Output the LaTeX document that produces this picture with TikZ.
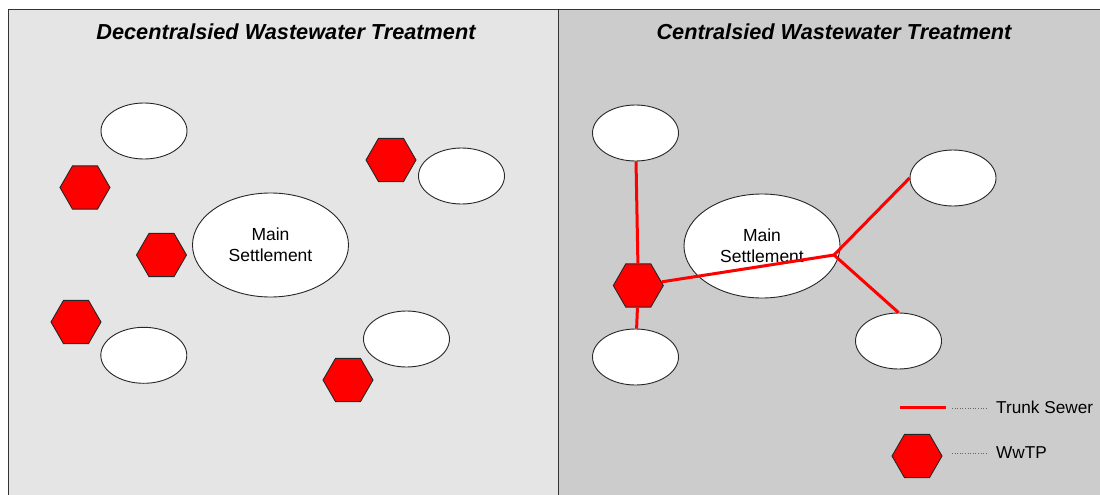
\documentclass[tikz,border=0pt]{standalone}
\usepackage{fontspec}
\setmainfont{Liberation Sans}
\usetikzlibrary{shapes.geometric}
\definecolor{panelL}{HTML}{E5E5E5}
\definecolor{panelR}{HTML}{CCCCCC}
\definecolor{sewer}{HTML}{FF0000}

\begin{document}
\begin{tikzpicture}[x=1pt,y=-1pt,
  settle/.style={ellipse,draw=black!85,line width=0.9pt,fill=white,
    minimum width=86pt,minimum height=56pt,inner sep=0pt},
  mainsettle/.style={settle,minimum width=156pt,minimum height=104pt,
    align=center,font=\fontsize{17.5}{21}\selectfont},
  plant/.style={regular polygon,regular polygon sides=6,minimum size=50pt,
    inner sep=0pt,draw=black!85,line width=0.9pt,fill=sewer},
  trunk/.style={draw=sewer,line width=3pt},
  leader/.style={draw=black!60,dotted,line width=0.6pt},
  paneltitle/.style={font=\fontsize{21.7}{24}\selectfont\bfseries\itshape},
  legendtext/.style={font=\fontsize{17.2}{20}\selectfont,anchor=base west,inner sep=0pt}]

\useasboundingbox (0,0) rectangle (1100,495);

% panels
\fill[white] (0,0) rectangle (1100,495);
\fill[panelL] (8,10) rectangle (558.5,500);
\fill[panelR] (558.5,10) rectangle (1110,500);
\draw[black!80,line width=1pt] (8,500) -- (8,10) -- (1110,10);
\draw[black!80,line width=1pt] (558.5,10) -- (558.5,500);

\node[paneltitle] (titleL) at (286,32) {Decentralsied Wastewater Treatment};
\node[paneltitle] (titleR) at (834,32) {Centralsied Wastewater Treatment};

% decentralised layout
\node[settle] (l1) at (144,131) {};
\node[settle] (l2) at (461.5,176) {};
\node[settle] (l3) at (143.8,355.3) {};
\node[settle] (l4) at (406.5,339) {};
\node[mainsettle] (lmain) at (270.5,245) {Main\\Settlement};

\node[plant] (lp1) at (85,187.5) {};
\node[plant] (lp2) at (161.5,255) {};
\node[plant] (lp3) at (391,160) {};
\node[plant] (lp4) at (76,322) {};
\node[plant] (lp5) at (348,380) {};

% centralised layout
\node[settle] (r1) at (635.5,133) {};
\node[settle] (r2) at (953,178) {};
\node[settle] (r3) at (898.5,341) {};
\node[settle] (r4) at (635.5,357) {};
\node[mainsettle] (rmain) at (762,246) {Main\\Settlement};
\node[plant] (rp) at (638.3,285.5) {};
\coordinate (junc) at (834,255);

\draw[trunk] (r1) -- (rp);
\draw[trunk] (rp) -- (r4);
\draw[trunk] (rp) -- (junc);
\draw[trunk] (junc) -- (r2.west);
\draw[trunk] (junc) -- (r3.north);

% legend
\coordinate (sewA) at (900,407.5);
\coordinate (sewB) at (945.5,407.5);
\coordinate (dotA1) at (952,408);
\coordinate (dotB1) at (988,408);
\draw[trunk] (sewA) -- (sewB);
\draw[leader] (dotA1) -- (dotB1);
\node[legendtext] (legSewer) at (996,413.3) {Trunk Sewer};

\node[plant] (legPlant) at (917,456) {};
\coordinate (dotA2) at (952,453);
\coordinate (dotB2) at (988,453);
\draw[leader] (dotA2) -- (dotB2);
\node[legendtext] (legPlantText) at (996,458.5) {WwTP};

\end{tikzpicture}
\end{document}
